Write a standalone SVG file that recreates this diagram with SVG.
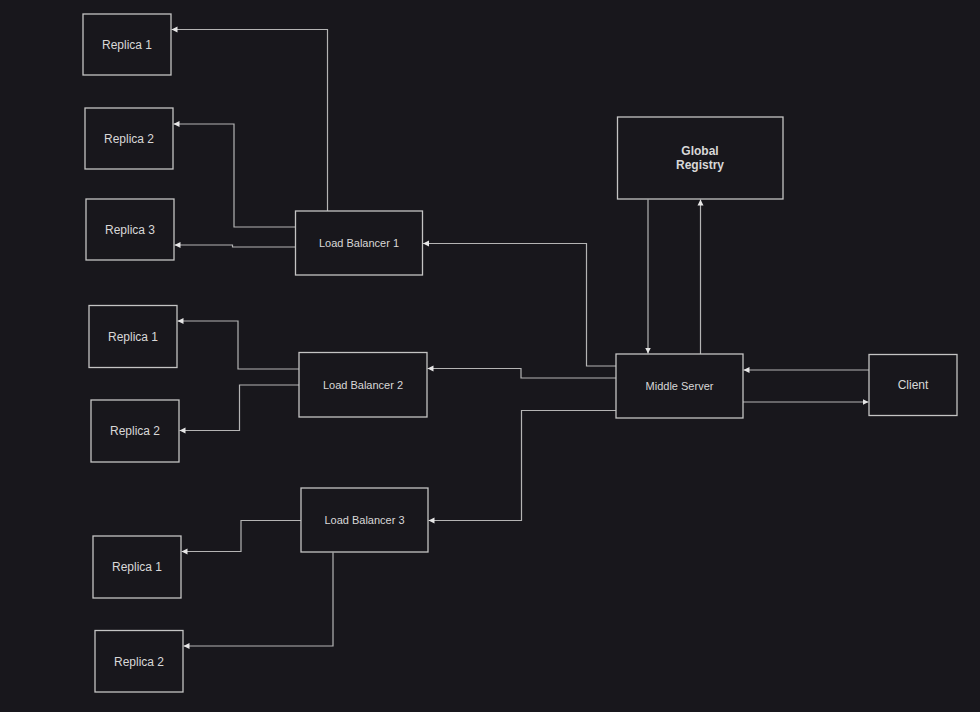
<svg xmlns="http://www.w3.org/2000/svg" width="980" height="712" viewBox="0 0 980 712">
<style>
.n rect{fill:#18171c;stroke:#c4c4c4;stroke-width:1.3}
.n text{fill:#d8d8d8;font-family:"Liberation Sans",Arial,sans-serif;text-anchor:middle;dominant-baseline:central}
.r text{font-size:12px}
.s text{font-size:11px}
.e path{fill:none;stroke:#b4b4b4;stroke-width:1.2}
</style>
<defs>
<marker id="a" markerUnits="userSpaceOnUse" markerWidth="8" markerHeight="8" refX="6" refY="4" orient="auto">
<path d="M0,1 L6,4 L0,7 Z" fill="#e6e6e6"/>
</marker>
</defs>
<rect width="980" height="712" fill="#18171c"/>
<g id="connectors" class="e">
<path d="M327.5,211 V29.5 H171.5" marker-end="url(#a)"/>
<path d="M295.5,227 H234 V124 H173.5" marker-end="url(#a)"/>
<path d="M295.5,247 H232.5 V245 H174.5" marker-end="url(#a)"/>
<path d="M299,369 H238 V321 H177.5" marker-end="url(#a)"/>
<path d="M299,385 H239.5 V430.5 H179.5" marker-end="url(#a)"/>
<path d="M301,520.5 H241 V551.5 H181.5" marker-end="url(#a)"/>
<path d="M333,552.5 V646 H183.5" marker-end="url(#a)"/>
<path d="M616,366 H586.5 V243.5 H423" marker-end="url(#a)"/>
<path d="M616,378 H521 V368.5 H427.5" marker-end="url(#a)"/>
<path d="M616,410.5 H521.5 V520.5 H428.5" marker-end="url(#a)"/>
<path d="M648,199.5 V353.5" marker-end="url(#a)"/>
<path d="M700.5,354 V199.5" marker-end="url(#a)"/>
<path d="M869,370 H743.5" marker-end="url(#a)"/>
<path d="M743,402 H868.5" marker-end="url(#a)"/>
</g>
<g id="replica1a" class="n r"><rect x="83" y="14" width="88" height="61"/><text x="127" y="44.5">Replica 1</text></g>
<g id="replica2a" class="n r"><rect x="85" y="108" width="88" height="61"/><text x="129" y="138.5">Replica 2</text></g>
<g id="replica3a" class="n r"><rect x="86" y="199" width="88" height="61"/><text x="130" y="229.5">Replica 3</text></g>
<g id="lb1" class="n s"><rect x="295.5" y="211" width="127" height="64"/><text x="359" y="243">Load Balancer 1</text></g>
<g id="replica1b" class="n r"><rect x="89" y="305.5" width="88" height="62"/><text x="133" y="336.5">Replica 1</text></g>
<g id="replica2b" class="n r"><rect x="91" y="400" width="88" height="62"/><text x="135" y="431">Replica 2</text></g>
<g id="lb2" class="n s"><rect x="299" y="352.5" width="128" height="64.5"/><text x="363" y="385">Load Balancer 2</text></g>
<g id="lb3" class="n s"><rect x="301" y="488" width="127" height="64"/><text x="364.5" y="520">Load Balancer 3</text></g>
<g id="replica1c" class="n r"><rect x="93" y="536" width="88" height="62"/><text x="137" y="567">Replica 1</text></g>
<g id="replica2c" class="n r"><rect x="95" y="630.5" width="88" height="61.5"/><text x="139" y="661.5">Replica 2</text></g>
<g id="registry" class="n"><rect x="617.5" y="117" width="165.5" height="82"/><text x="700" y="151" font-size="12" font-weight="bold">Global</text><text x="700" y="165" font-size="12" font-weight="bold">Registry</text></g>
<g id="middle" class="n s"><rect x="616" y="354" width="127" height="64"/><text x="679.5" y="386">Middle Server</text></g>
<g id="client" class="n r"><rect x="869" y="354.5" width="88" height="61"/><text x="913" y="385">Client</text></g>
</svg>
